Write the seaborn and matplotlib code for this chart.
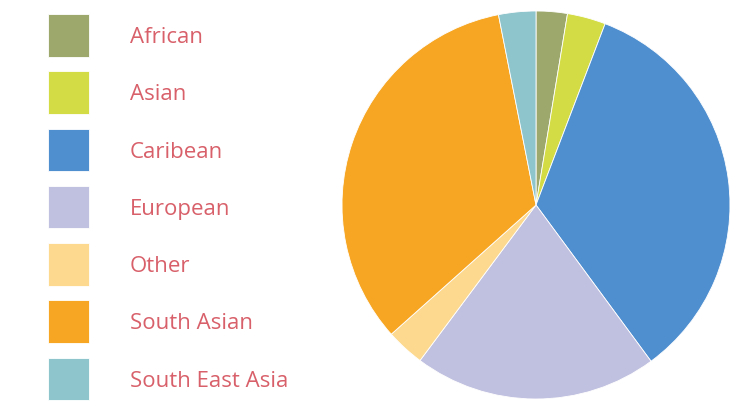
import numpy as np
import matplotlib
matplotlib.use("Agg")
import matplotlib.pyplot as plt
import seaborn as sns

# data (share of total, %)
groups = ["African", "Asian", "Caribean", "European", "Other", "South Asian", "South East Asia"]
shares = [2.6, 3.2, 34.1, 20.3, 3.2, 33.5, 3.1]
colours = ["#9ca86c", "#d3dc45", "#4f8fd0", "#c0c0e0", "#fcd98f", "#f6a623", "#8ec4cc"]

sns.set_theme(style="white")
plt.rcParams["font.family"] = ["Open Sans", "DejaVu Sans"]
palette = sns.color_palette(colours)

fig = plt.figure(figsize=(7.34, 4.02), dpi=100)
fig.patch.set_facecolor("white")

# pie axes, centre ~ (536,206) px, radius ~194 px
ax = fig.add_axes([342 / 734, 2 / 402, 388 / 734, 388 / 402])
wedges, _ = ax.pie(shares, colors=palette, startangle=90, counterclock=False,
                   wedgeprops=dict(linewidth=0.6, edgecolor="white"), radius=1)
ax.set_aspect("equal")
ax.set_xlim(-1, 1)
ax.set_ylim(-1, 1)
ax.axis("off")

fs = 16
px = fs * 100 / 72
leg = fig.legend(wedges, groups, loc="upper left",
                 bbox_to_anchor=(48 / 734, 1 - 15 / 402), borderaxespad=0,
                 frameon=False, fontsize=fs, borderpad=0,
                 handlelength=41 / px, handleheight=40 / (0.7 * px),
                 labelspacing=14.7 / px, handletextpad=(130 - 89) / px)
for t in leg.get_texts():
    t.set_color("#d8606a")

fig.savefig("out.png", dpi=100, facecolor="white")
